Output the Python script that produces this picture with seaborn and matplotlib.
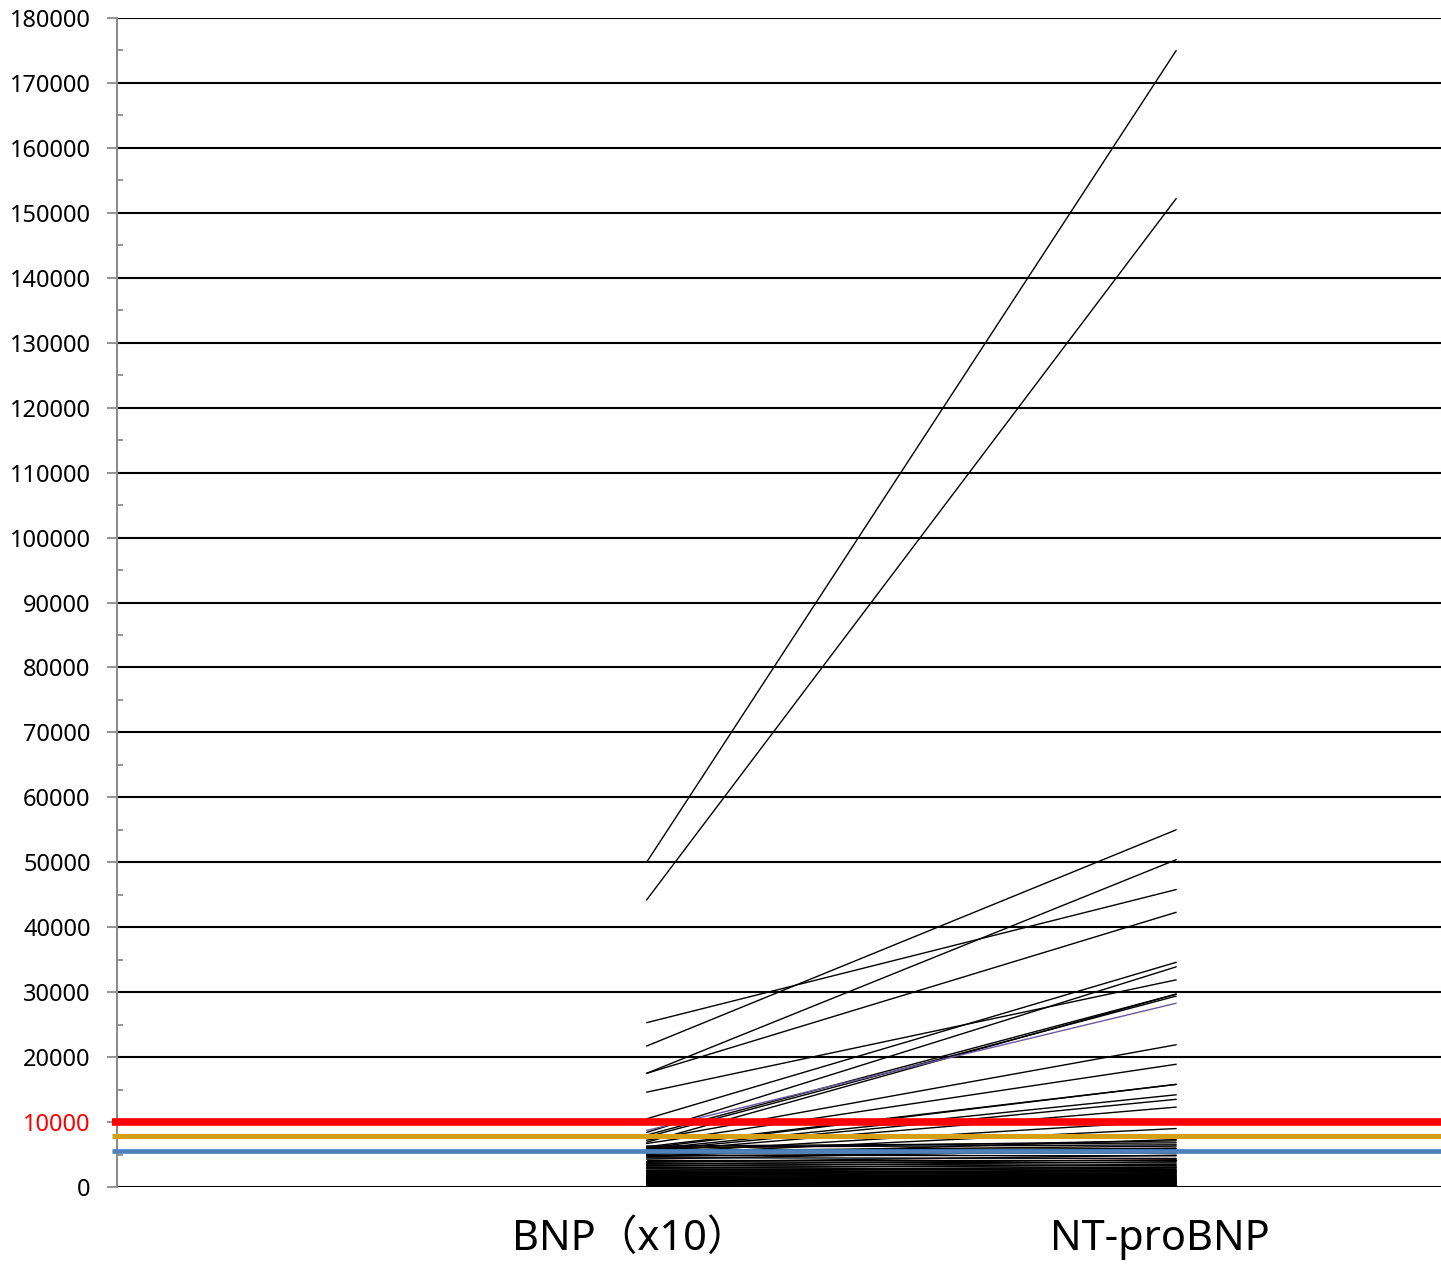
import numpy as np
import pandas as pd
import matplotlib
matplotlib.use("Agg")
import matplotlib.pyplot as plt
import matplotlib.transforms as mtransforms
from matplotlib.ticker import MultipleLocator
import seaborn as sns

categories = ["BNP（x10）", "NT-proBNP"]

# paired values per patient: BNP (x10) and NT-proBNP
bnp = [50000, 44200, 25300, 21700, 17500, 17500, 14600, 10500,
       8400, 8000, 7700, 6900, 7200, 6700, 6200, 6000, 5800, 5600, 5400, 5200, 5000, 4800,
       6300, 6100, 5900, 5700, 5500, 5300, 5100, 4900, 4700, 4500, 4300, 4100, 3900, 3800,
       3600, 3500, 3300, 3200, 3000, 2900, 2800, 2600, 2500, 2400, 2300, 2200, 2100, 2000,
       1900, 1800, 1700, 1600, 1500, 1450, 1400, 1300, 1250, 1200, 1100, 1050, 1000, 950,
       900, 850, 800, 750, 700, 650, 600, 550, 500, 450, 400, 350, 300, 250, 200, 150, 120, 100]
ntprobnp = [175000, 152200, 45800, 55000, 50400, 42300, 31900, 34600,
            33900, 29700, 29400, 29700, 21900, 18900, 15800, 15800, 14200, 13500, 12300, 10200, 9000, 7300,
            6800, 6500, 7100, 5900, 6300, 5200, 6000, 4800, 5500, 4400, 5800, 4100, 3700, 4900,
            3300, 4200, 3000, 3900, 2700, 3500, 2500, 3100, 2300, 2900, 2100, 2600, 1900, 2400,
            1700, 2200, 1600, 2000, 1400, 1800, 1300, 1500, 1200, 1100, 1000, 1350, 900, 800,
            1150, 700, 650, 950, 600, 550, 850, 500, 450, 400, 750, 350, 300, 250, 200, 180, 150, 120]

# one highlighted (purple) patient
purple_bnp = 8700
purple_nt = 28300

# reference lines
ref_values = [10000, 7800, 5500]
ref_colors = ["#ff0000", "#d4a017", "#4f81bd"]
ref_widths = [5.5, 3.6, 3.4]

rows = []
for i, (b, n) in enumerate(zip(bnp, ntprobnp)):
    rows.append({"id": i, "pos": 1, "value": b})
    rows.append({"id": i, "pos": 2, "value": n})
df = pd.DataFrame(rows)
df_purple = pd.DataFrame({"id": [0, 0], "pos": [1, 2], "value": [purple_bnp, purple_nt]})

sns.set_style("white")
plt.rcParams["font.family"] = ["Noto Sans", "Noto Sans CJK JP", "DejaVu Sans"]
plt.rcParams["text.color"] = "black"
plt.rcParams["xtick.color"] = "black"
plt.rcParams["ytick.color"] = "black"

fig = plt.figure(figsize=(14.41, 12.68), dpi=100)
ax = fig.add_axes([117 / 1441, 1 - 1187 / 1268, 1 - 117 / 1441, (1187 - 18) / 1268])

ax.set_ylim(0, 180000)
ax.set_xlim(0, 2.5)

ax.yaxis.set_major_locator(MultipleLocator(10000))
ax.yaxis.set_minor_locator(MultipleLocator(5000))
ax.grid(axis="y", which="major", color="black", linewidth=1.5)
ax.set_axisbelow(True)

sns.lineplot(data=df, x="pos", y="value", units="id", estimator=None,
             color="black", linewidth=1.0, ax=ax, legend=False, zorder=3)
sns.lineplot(data=df_purple, x="pos", y="value", units="id", estimator=None,
             color="#6a5a9c", linewidth=1.0, ax=ax, legend=False, zorder=3)

for v, c, w in zip(ref_values, ref_colors, ref_widths):
    ax.axhline(v, xmin=-0.004, xmax=1, color=c, linewidth=w, zorder=4,
               clip_on=False, solid_capstyle="butt")

for s in ["top", "right", "bottom"]:
    ax.spines[s].set_visible(False)
ax.spines["left"].set_color("#8c8c8c")
ax.spines["left"].set_linewidth(1.5)

ax.tick_params(axis="y", which="major", direction="out", length=7, width=1.3,
               color="#8c8c8c", labelcolor="black", labelsize=17, pad=12, left=True)
ax.tick_params(axis="y", which="minor", direction="in", length=4, width=1.3,
               color="#8c8c8c", left=True)
ax.set_yticks(np.arange(0, 180001, 10000))
ax.set_yticklabels([str(v) for v in range(0, 180001, 10000)])
for lbl in ax.get_yticklabels():
    if lbl.get_text() == "10000":
        lbl.set_color("red")

ax.set_xticks([1, 2])
ax.set_xticklabels(categories, fontsize=30, color="black")
ax.tick_params(axis="x", length=0, pad=22)
offset = mtransforms.ScaledTranslation(-16 / 100, 0, fig.dpi_scale_trans)
for lbl in ax.get_xticklabels():
    lbl.set_transform(lbl.get_transform() + offset)

ax.set_xlabel("")
ax.set_ylabel("")

fig.savefig("out.png", dpi=100)
